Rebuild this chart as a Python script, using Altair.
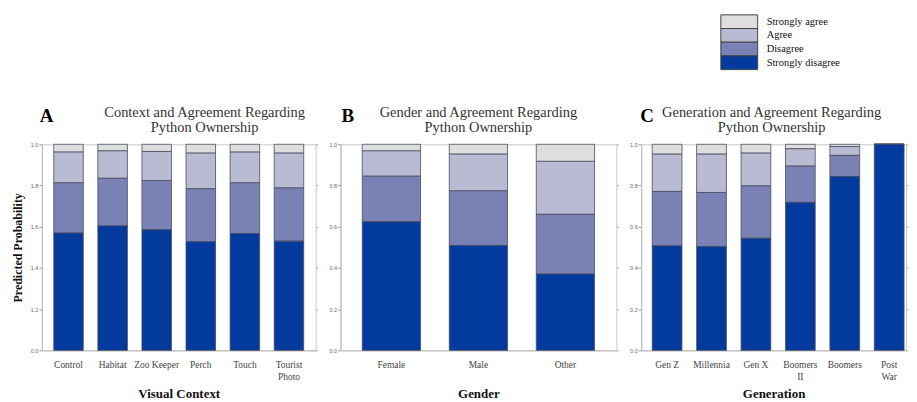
import altair as alt
import pandas as pd

levels = ["Strongly agree", "Agree", "Disagree", "Strongly disagree"]
colors = ["#dededf", "#b9bbd3", "#7a81b5", "#033a9d"]

# Panel A: visual context
ctx_cats = ["Control", "Habitat", "Zoo Keeper", "Perch", "Touch", "Tourist Photo"]
ctx_sd = [0.569, 0.604, 0.585, 0.527, 0.567, 0.530]
ctx_d = [0.244, 0.231, 0.239, 0.257, 0.246, 0.258]
ctx_a = [0.149, 0.133, 0.141, 0.173, 0.149, 0.169]
ctx_sa = [0.038, 0.032, 0.035, 0.043, 0.038, 0.043]

# Panel B: gender
gen_cats = ["Female", "Male", "Other"]
gen_sd = [0.624, 0.509, 0.370]
gen_d = [0.221, 0.265, 0.290]
gen_a = [0.123, 0.178, 0.257]
gen_sa = [0.032, 0.048, 0.083]

# Panel C: generation
age_cats = ["Gen Z", "Millennia", "Gen X", "Boomers II", "Boomers", "Post War"]
age_sd = [0.507, 0.504, 0.544, 0.718, 0.843, 1.0]
age_d = [0.264, 0.262, 0.254, 0.176, 0.103, 0.0]
age_a = [0.181, 0.186, 0.159, 0.084, 0.043, 0.0]
age_sa = [0.048, 0.048, 0.043, 0.022, 0.011, 0.0]

y_ticks = [0.0, 0.2, 0.4, 0.6, 0.8, 1.0]
SERIF = "Liberation Serif"

color_scale = alt.Scale(domain=levels, range=colors)


def make_df(cats, sd, d, a, sa):
    rows = []
    series = {"Strongly agree": sa, "Agree": a, "Disagree": d, "Strongly disagree": sd}
    for i, c in enumerate(cats):
        for lvl in levels:
            rows.append({"cat": c, "level": lvl, "value": series[lvl][i],
                         "ord": 3 - levels.index(lvl)})
    return pd.DataFrame(rows)


split_expr = ("indexof(['Tourist Photo','Boomers II','Post War'], datum.label) >= 0"
              " ? split(datum.label, ' ') : datum.label")

yscale = alt.Scale(domain=[0, 1], nice=False)


def panel(df, cats, letter, title_lines, xtitle, width, pin, pout, first, title_dx, letter_dx, align=0.5):
    yaxis = alt.Axis(
        values=y_ticks, grid=False, labelFontSize=5.5, labelColor="#666", labelFont="Liberation Sans",
        tickSize=3, tickColor="#999", domainColor="#bbb", labelPadding=1,
        title="Predicted Probability" if first else None,
        titleFont=SERIF, titleFontSize=12, titleFontWeight="bold", titleColor="#111",
        titlePadding=6,
        labelExpr=("datum.value == 0 ? '0.0' : format(datum.value + (datum.value < 1 ? 1 : 0), '.1f')"
                   if first else "format(datum.value, '.1f')"),
    )
    raxis = alt.Axis(orient="right", values=y_ticks, grid=False, labels=False, domain=False,
                     tickSize=2, tickColor="#aaa", title=None)
    xaxis = alt.Axis(
        title=xtitle, labelAngle=0, labelFont=SERIF, labelFontSize=9.5, labelColor="#444",
        ticks=False, domainColor="#bbb", labelPadding=9, labelBaseline="top",
        labelExpr=split_expr, labelLineHeight=12,
        titleFont=SERIF, titleFontSize=13, titleFontWeight="bold", titleColor="#111",
        titleY=47, titleBaseline="alphabetic",
    )
    bars = alt.Chart(df).mark_bar(stroke="#4a4d60", strokeWidth=0.8).encode(
        x=alt.X("cat:N", sort=cats,
                scale=alt.Scale(paddingInner=pin, paddingOuter=pout, align=align), axis=xaxis),
        y=alt.Y("value:Q", stack="zero", scale=yscale, axis=yaxis),
        color=alt.Color("level:N", scale=color_scale, legend=None),
        order=alt.Order("ord:Q"),
    )
    lab = alt.Chart(pd.DataFrame({"t": [letter]})).mark_text(
        align="left", baseline="alphabetic", font=SERIF, fontSize=19, fontWeight="bold",
        color="#000", dy=-22
    ).encode(text="t:N", x=alt.value(letter_dx),
             y=alt.Y(datum=1, type="quantitative", scale=yscale, axis=raxis))
    return alt.layer(bars, lab).resolve_axis(y="independent").properties(
        width=width, height=207,
        title=alt.TitleParams(title_lines, font=SERIF, fontSize=14.5, fontWeight="normal",
                              color="#333", anchor="middle", offset=-28, lineHeight=15, dx=title_dx),
    )


pa = panel(make_df(ctx_cats, ctx_sd, ctx_d, ctx_a, ctx_sa), ctx_cats, "A",
           ["Context and Agreement Regarding", "Python Ownership"], "Visual Context",
           275, 0.33, 0.27, True, 26, -2)
pb = panel(make_df(gen_cats, gen_sd, gen_d, gen_a, gen_sa), gen_cats, "B",
           ["Gender and Agreement Regarding", "Python Ownership"], "Gender",
           277, 0.33, 0.25, False, 0, 1)
pc = panel(make_df(age_cats, age_sd, age_d, age_a, age_sa), age_cats, "C",
           ["Generation and Agreement Regarding", "Python Ownership"], "Generation",
           266, 0.33, 0.146, False, -2, -1, align=0.85)

# legend drawn as its own small chart
leg_df = pd.DataFrame({"level": levels})
leg_y = alt.Y("level:N", sort=levels, scale=alt.Scale(paddingInner=0, paddingOuter=0), axis=None)
leg_rect = alt.Chart(leg_df).mark_rect(stroke="#444", strokeWidth=1).encode(
    x=alt.value(682), x2=alt.value(719), y=leg_y,
    color=alt.Color("level:N", scale=color_scale, legend=None),
)
leg_text = alt.Chart(leg_df).mark_text(
    align="left", baseline="middle", font=SERIF, fontSize=10.5, color="#111"
).encode(x=alt.value(728), y=leg_y, text="level:N")
legend_chart = alt.layer(leg_rect, leg_text).properties(
    width=820, height=55, view=alt.ViewBackground(strokeWidth=0)
)

row = alt.hconcat(pa, pb, pc, spacing=25, bounds="flush")

chart = alt.vconcat(legend_chart, row, spacing=34).properties(
    padding={"left": 2, "top": 5, "right": 0, "bottom": 0}, background="white"
).configure_view(stroke="#c8c8c8", strokeWidth=1)

chart.save("out.html", embed_options={"renderer": "svg", "actions": False})
